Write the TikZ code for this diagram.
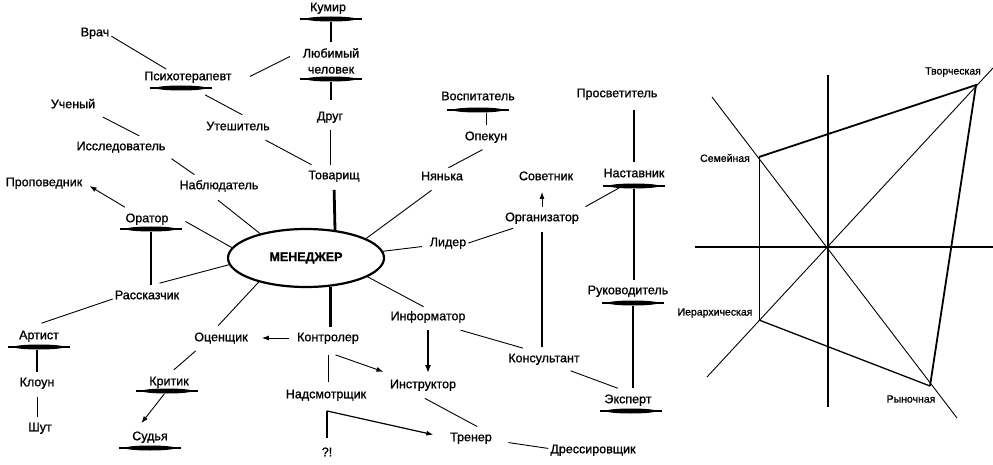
\documentclass[tikz,border=0pt]{standalone}
\usepackage{fontspec}
\setmainfont{Liberation Sans}[RawFeature={embolden=1.0}]
\usetikzlibrary{arrows.meta,shapes.geometric}
\tikzset{
 lbl/.style={font=\fontsize{12.5}{16}\selectfont, inner sep=2pt, text height=9pt, text depth=2.5pt},
 lbltwo/.style={font=\fontsize{12.5}{16}\selectfont, inner sep=2pt, align=center},
 sml/.style={font=\fontsize{10.5}{12}\selectfont, inner sep=1pt},
 barnode/.style={ellipse, fill=black, minimum width=50pt, minimum height=5pt, inner sep=0pt,
   append after command={(\tikzlastnode.west) edge[line width=1.4pt, shorten <=-6pt, shorten >=-6pt] (\tikzlastnode.east)}},
 thinln/.style={line width=0.9pt},
 medln/.style={line width=1.5pt},
 thickln/.style={line width=2.4pt},
 arrln/.style={line width=0.9pt, -{Latex[length=7pt,width=5pt]}},
 thickarr/.style={line width=2pt, -{Latex[length=8pt,width=6pt]}},
 axisln/.style={line width=2.5pt},
}
\begin{document}
\begin{tikzpicture}[x=1pt,y=-1pt]
\useasboundingbox (0,0) rectangle (993,465);
% ---- nodes ----
\node[lbl] (kumir) at (328,8) {Кумир};
\node[barnode] (kumirbar) at (331,19) {};
\node[lbltwo] (lyub) at (331,61) {Любимый\\человек};
\node[barnode] (lyubbar) at (331,79) {};
\node[lbl] (drug) at (330,117) {Друг};
\node[lbl] (tov) at (334,176) {Товарищ};
\node[ellipse, draw, line width=2.2pt, minimum width=156pt, minimum height=58pt, inner sep=0pt,
      font=\bfseries\fontsize{12.5}{15}\selectfont] (man) at (306,258) {МЕНЕДЖЕР};
\node[lbl] (vrach) at (95,33) {Врач};
\node[lbl] (psy) at (188,77) {Психотерапевт};
\node[barnode] (psybar) at (181,88) {};
\node[lbl] (utesh) at (238,127) {Утешитель};
\node[lbl] (uchen) at (73,105) {Ученый};
\node[lbl] (issl) at (121,147) {Исследователь};
\node[lbl] (nabl) at (219,186) {Наблюдатель};
\node[lbl] (propov) at (44,183) {Проповедник};
\node[lbl] (orator) at (147,219) {Оратор};
\node[barnode] (oratorbar) at (151,229) {};
\node[lbl] (rassk) at (147,296) {Рассказчик};
\node[lbl] (artist) at (39,336) {Артист};
\node[barnode] (artistbar) at (39,347) {};
\node[lbl] (kloun) at (37,383) {Клоун};
\node[lbl] (shut) at (40,428) {Шут};
\node[lbl] (ocen) at (221,338) {Оценщик};
\node[lbl] (kontr) at (328,338) {Контролер};
\node[lbl] (kritik) at (169,382) {Критик};
\node[barnode] (kritikbar) at (167,391) {};
\node[lbl] (sudya) at (150,437) {Судья};
\node[barnode] (sudyabar) at (150,448) {};
\node[lbl] (nadsm) at (326,395) {Надсмотрщик};
\node[lbl] (instr) at (423,385) {Инструктор};
\node[lbl] (qq) at (327,453) {?!};
\node[lbl] (trener) at (471,438) {Тренер};
\node[lbl] (dress) at (593,450) {Дрессировщик};
\node[lbl] (inform) at (428,317) {Информатор};
\node[lbl] (kons) at (544,359) {Консультант};
\node[lbl] (ekspert) at (628,400) {Эксперт};
\node[barnode] (ekspertbar) at (631,411) {};
\node[lbl] (ruk) at (628,291) {Руководитель};
\node[barnode] (rukbar) at (633,303) {};
\node[lbl] (lider) at (448,243) {Лидер};
\node[lbl] (org) at (542,218) {Организатор};
\node[lbl] (sovet) at (546,177) {Советник};
\node[lbl] (nast) at (634,174) {Наставник};
\node[barnode] (nastbar) at (634,186) {};
\node[lbl] (prosv) at (617,94) {Просветитель};
\node[lbl] (vosp) at (478,97) {Воспитатель};
\node[barnode] (vospbar) at (478,110) {};
\node[lbl] (opek) at (486,137) {Опекун};
\node[lbl] (nyan) at (442,177) {Нянька};
% ---- connectors ----
\draw[thickln, shorten >=4pt] (kumirbar.south) -- (kumirbar.south |- lyub.north);
\draw[thickln, shorten >=9pt] (lyubbar.south) -- (lyubbar.south |- drug.north);
\draw[thinln, shorten <=5pt, shorten >=3pt] (drug.south) -- (drug.south |- tov.north);
\draw[thickln, line width=2.8pt, shorten <=6pt] (tov.south) -- (man.44);
\draw[thinln] (vrach.-11) -- (psy.160);
\draw[thinln, shorten <=19pt, shorten >=12pt] (psy.-10) -- (lyub.162);
\draw[thinln, shorten <=10pt, shorten >=9pt] (psybar.-8) -- (utesh.33);
\draw[thinln, shorten <=11pt, shorten >=7pt] (utesh.-24) -- (tov.154);
\draw[thinln, shorten <=9pt, shorten >=7pt] (uchen.-20) -- (issl.18);
\draw[thinln, shorten <=6.5pt, shorten >=6pt] (issl.-10.5) -- (nabl.158);
\draw[thinln, shorten <=10pt] (nabl.222) -- (man.152);
\draw[arrln, shorten <=7.5pt, shorten >=6pt] (orator.153) -- (propov.east);
\draw[thinln, shorten <=17pt] (orator.14) -- (man.172);
\draw[medln, shorten >=3pt] (oratorbar.south) -- (oratorbar.south |- rassk.north);
\draw[thinln, shorten <=19pt] (rassk.126) -- (man.185);
\draw[thinln, shorten >=15pt] (rassk.185) -- (artist.146);
\draw[thickln, shorten >=3pt] (kloun.north |- artistbar.south) -- (kloun.north);
\draw[thinln, shorten <=6pt, shorten >=3pt] (kloun.south) -- (kloun.south |- shut.north);
\draw[thinln, shorten >=6pt] (man.207) -- (ocen.131);
\draw[arrln, shorten <=6pt, shorten >=12pt] (kontr.west) -- (ocen.east);
\draw[thickln, line width=2.8pt, shorten >=3pt] (man.-49) -- (man.-49 |- kontr.north);
\draw[thinln, shorten <=9pt, shorten >=5pt] (kontr.south) -- (kontr.south |- nadsm.north);
\draw[arrln, shorten <=27pt, shorten >=16pt] (kontr.204) -- (instr.162);
\draw[thickln, shorten <=7pt] (qq.north) -- ([yshift=-8pt]nadsm.south -| qq.north);
\draw[arrln, line width=1.2pt, shorten >=15pt] ([yshift=-8pt]nadsm.south -| qq.north) -- (trener.west);
\draw[thinln, shorten <=11.5pt, shorten >=7.4pt] (instr.224) -- (trener.32);
\draw[thinln, shorten <=14.5pt] (trener.-6.5) -- (dress.178);
\draw[thinln, shorten >=5pt] (man.-17) -- (inform.north);
\draw[thickarr, shorten <=5pt, shorten >=4pt] (inform.south) -- (inform.south |- instr.north);
\draw[thinln, shorten <=19pt, shorten >=10.6pt] (inform.-29) -- (kons.144);
\draw[thinln, shorten <=11pt, shorten >=11pt] (kons.-26.6) -- (ekspert.north);
\draw[thickln, line width=2.8pt, shorten >=4pt] (rukbar.south) -- (rukbar.south |- ekspert.north);
\draw[thinln, shorten >=5.8pt] (man.5) -- (lider.188);
\draw[thinln, shorten >=7.5pt] (lider.east) -- (org.200);
\draw[medln, shorten <=6pt, shorten >=4pt] (org.south) -- (org.south |- kons.north);
\draw[arrln, shorten <=3pt, shorten >=7pt] (org.north) -- (org.north |- sovet.south);
\draw[thinln, shorten <=7pt] (org.12) -- (nastbar.188);
\draw[thickln, shorten >=3pt] (nastbar.south) -- (nastbar.south |- ruk.north);
\draw[medln, line width=2pt, shorten <=8pt, shorten >=4pt] (nast.north |- prosv.south) -- (nast.north);
\draw[thinln, shorten >=4pt] (opek.north |- vospbar.south) -- (opek.north);
\draw[thinln, shorten <=10pt, shorten >=2.7pt] (opek.-56) -- (nyan.63);
\draw[thinln, shorten <=9pt] (nyan.248) -- (man.18);
\draw[thinln, shorten <=7.5pt, shorten >=6.4pt] (ocen.202) -- (kritik.north);
\draw[arrln, shorten >=7.5pt] (kritikbar.227) -- (sudya.149);
% ---- right diagram ----
\draw[axisln] (828,75) -- (828,407);
\draw[axisln] (695,247) -- (993,247);
\draw[thinln] (712,97) -- (957,418);
\draw[thinln] (707,377) -- (993,68);
\coordinate (T) at (976,85);
\coordinate (S) at (759,157);
\coordinate (I) at (759,320);
\coordinate (R) at (930,386);
\draw[line width=1.8pt] (S) -- (T) -- (R);
\draw[line width=1.3pt] (I) -- (R);
\draw[thinln] (S) -- (I);
\node[sml] (tvor) at (953,72) {Творческая};
\node[sml] (sem) at (725,158) {Семейная};
\node[sml] (ier) at (715,313) {Иерархическая};
\node[sml] (ryn) at (911,399) {Рыночная};
\end{tikzpicture}
\end{document}
